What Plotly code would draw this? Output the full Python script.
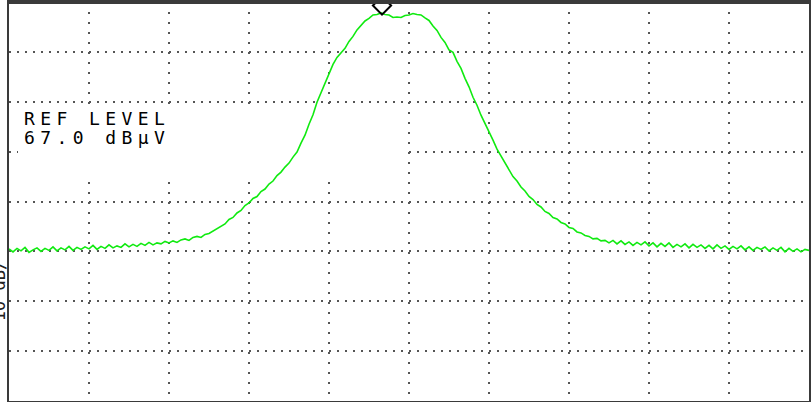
import plotly.graph_objects as go

# Trace data: frequency position (0..800 span units) and level in dBµV
freq = [4 * i for i in range(201)]
level_dbuv = [
    17.5, 16.9, 17.6, 17.1, 17.8, 16.8, 17.3, 17.7, 17.0, 17.6,
    17.2, 17.9, 17.1, 17.7, 17.3, 18.0, 17.2, 17.8, 17.4, 17.9,
    17.5, 18.2, 17.4, 18.0, 17.6, 18.3, 17.7, 18.1, 17.8, 18.5,
    17.9, 18.4, 18.0, 18.6, 18.2, 18.8, 18.3, 18.7, 18.5, 19.0,
    18.7, 19.1, 18.8, 19.3, 19.5, 19.2, 19.8, 20.0, 19.8, 20.4,
    20.6, 21.1, 21.5, 22.1, 22.5, 23.4, 23.8, 24.7, 25.2, 26.2,
    26.7, 27.6, 28.0, 29.0, 29.5, 30.5, 31.1, 32.2, 32.9, 33.9,
    34.7, 35.9, 36.9, 38.7, 40.3, 42.5, 44.4, 46.9, 48.8, 50.9,
    52.5, 54.5, 55.9, 56.8, 57.7, 59.1, 60.1, 61.4, 62.2, 63.2,
    63.7, 64.4, 64.5, 64.8, 64.5, 64.4, 63.9, 64.0, 63.9, 64.3,
    64.4, 64.7, 64.5, 64.4, 63.8, 63.3, 62.2, 61.3, 59.9, 58.9,
    57.4, 56.9, 55.1, 53.7, 51.7, 50.0, 47.9, 46.3, 44.3, 42.7,
    40.8, 39.3, 37.5, 36.1, 34.5, 33.4, 32.0, 31.1, 29.9, 29.1,
    28.0, 27.4, 26.4, 25.9, 25.0, 24.6, 23.8, 23.5, 22.8, 22.5,
    21.8, 21.6, 20.9, 20.7, 20.2, 20.0, 19.5, 19.6, 19.1, 19.2,
    18.7, 19.2, 18.5, 19.1, 18.4, 18.9, 18.2, 18.8, 18.3, 18.9,
    18.1, 18.7, 17.9, 18.6, 18.0, 18.7, 17.8, 18.4, 17.9, 18.5,
    17.7, 18.4, 17.8, 18.3, 17.6, 18.2, 17.5, 18.3, 17.6, 18.1,
    17.4, 18.0, 17.5, 18.1, 17.3, 17.9, 17.2, 17.8, 17.4, 17.9,
    17.1, 17.7, 17.2, 17.8, 16.9, 17.6, 17.0, 17.5, 16.9, 17.4,
    17.2,
]

ref_level = 67.0
db_per_div = 10
n_ydiv = 8
n_xdiv = 10
span = 800

marker_freq = [373]
marker_level = [66.3]

ref_text_lines = ["REF LEVEL", "67.0 dBμV"]
side_text = "10 dB/"

fig = go.Figure()
fig.add_trace(go.Scatter(
    x=freq, y=level_dbuv, mode="lines",
    line=dict(color="#10ea10", width=1.6),
    hoverinfo="skip", showlegend=False,
))
fig.add_trace(go.Scatter(
    x=marker_freq, y=marker_level, mode="markers",
    marker=dict(symbol="diamond-open", size=14, color="#000000",
                line=dict(width=2, color="#000000")),
    cliponaxis=False, hoverinfo="skip", showlegend=False,
))

# blanked area of the graticule behind the reference-level readout
fig.add_shape(
    type="rect", xref="x", yref="y",
    x0=9, x1=396, y0=31.8, y1=46.5,
    fillcolor="#ffffff", line=dict(width=0), layer="between",
)
# top edge of the screen frame
fig.add_shape(
    type="line", xref="paper", yref="paper", x0=0, x1=1,
    y0=1 - 0.9 / 400, y1=1 - 0.9 / 400,
    line=dict(color="#3a3a3a", width=2), layer="above",
)

for k, (line_text, top_px) in enumerate(zip(ref_text_lines, [104.7, 123.7])):
    fig.add_annotation(
        text="<span style='letter-spacing:5.4px'>" + line_text + "</span>",
        xref="paper", yref="paper", x=13 / 800, y=1 - top_px / 400,
        xanchor="left", yanchor="top", align="left", showarrow=False,
        font=dict(family="DejaVu Sans Mono", size=18, color="#000000"),
    )
fig.add_annotation(
    text=side_text, textangle=-90,
    xref="paper", yref="paper", x=-10 / 800, y=1 - 290 / 400,
    xanchor="center", yanchor="middle", showarrow=False,
    font=dict(family="DejaVu Sans Mono", size=17, color="#222222"),
)

fig.update_xaxes(
    range=[0, span], dtick=span / n_xdiv, tick0=0,
    showticklabels=False, ticks="", zeroline=False,
    showgrid=True, gridcolor="#555555", gridwidth=2, griddash="2px,8px",
    showline=True, mirror=True, linecolor="#3a3a3a", linewidth=2,
)
fig.update_yaxes(
    range=[ref_level - db_per_div * n_ydiv, ref_level], dtick=db_per_div, tick0=ref_level,
    showticklabels=False, ticks="", zeroline=False,
    showgrid=True, gridcolor="#555555", gridwidth=2, griddash="2px,6px",
    showline=True, mirror=True, linecolor="#3a3a3a", linewidth=2,
)
fig.update_layout(
    width=812, height=402,
    margin=dict(l=9, r=3, t=2, b=1),
    paper_bgcolor="#ffffff", plot_bgcolor="#ffffff",
)
fig.write_html(
    "out.html",
    config={"displayModeBar": False},
    post_script="document.body.style.margin='0px';document.body.style.overflow='hidden';",
)
